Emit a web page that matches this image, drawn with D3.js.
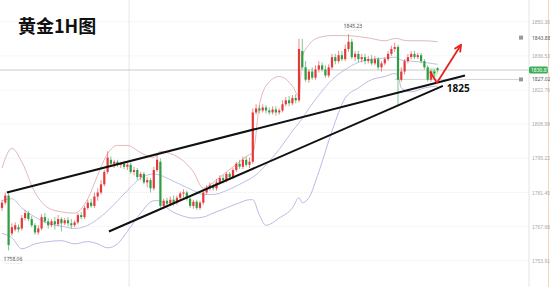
<!DOCTYPE html>
<html>
<head>
<meta charset="utf-8">
<script src="https://cdn.jsdelivr.net/npm/d3@7"></script>
<style>
  body { margin: 0; background: #fff; }
  svg { display: block; }
</style>
</head>
<body>
<div id="chart-area"></div>
<script>
/*
*    gold 1H candles
*/

// candles (open / close / high / low), one per hour
var opens  = [1775.2,1777.3,1780.2,1764.9,1766.5,1767.4,1766.9,1771.1,1773.1,1770.7,1768.2,1765.3,1766.9,1771.5,1769.8,1768.2,1769.8,1768.6,1770.7,1769.0,1770.2,1769.0,1768.2,1769.4,1772.3,1771.5,1775.2,1777.3,1776.0,1779.8,1781.4,1784.7,1789.7,1794.6,1793.0,1793.8,1792.6,1793.0,1791.8,1792.6,1789.7,1790.5,1787.6,1788.9,1785.5,1786.4,1783.1,1790.5,1793.8,1776.0,1778.1,1776.9,1778.5,1777.3,1779.3,1781.0,1781.4,1778.9,1776.0,1777.7,1775.2,1777.3,1781.4,1783.1,1784.3,1783.1,1785.5,1787.2,1786.4,1788.9,1787.6,1790.5,1793.0,1791.8,1794.6,1792.6,1793.8,1813.7,1815.3,1814.5,1815.7,1814.5,1813.7,1814.9,1813.7,1814.5,1817.0,1818.6,1817.4,1819.5,1818.6,1838.5,1831.9,1826.9,1830.2,1827.7,1831.0,1832.7,1831.0,1828.6,1831.9,1836.0,1834.4,1836.8,1835.2,1839.3,1842.2,1836.0,1837.3,1835.2,1836.0,1834.4,1835.2,1833.5,1835.2,1831.9,1833.5,1835.2,1837.3,1839.3,1840.1,1826.9,1830.2,1834.4,1836.0,1837.3,1836.0,1836.8,1834.4,1831.9,1826.9,1830.2,1831.5];
var closes = [1777.3,1780.2,1760.2,1767.4,1768.2,1766.5,1771.1,1773.1,1770.7,1768.2,1765.3,1766.9,1771.5,1769.8,1768.2,1769.8,1768.6,1770.7,1769.0,1770.2,1769.0,1768.2,1769.4,1772.3,1771.5,1775.2,1777.3,1776.0,1779.8,1781.4,1784.7,1789.7,1795.5,1793.0,1793.8,1792.6,1793.0,1791.8,1792.6,1789.7,1790.5,1787.6,1788.9,1785.5,1786.4,1783.1,1790.5,1794.6,1776.0,1778.1,1776.9,1778.5,1777.3,1779.3,1781.0,1781.4,1778.9,1776.0,1777.7,1775.2,1777.3,1781.4,1783.1,1784.3,1783.1,1785.5,1787.2,1786.4,1788.9,1787.6,1790.5,1793.0,1791.8,1794.6,1792.6,1793.8,1813.7,1815.3,1814.5,1815.7,1814.5,1813.7,1814.9,1813.7,1814.5,1817.0,1818.6,1817.4,1819.5,1818.6,1839.3,1831.9,1826.9,1830.2,1827.7,1831.0,1832.7,1831.0,1828.6,1831.9,1836.0,1834.4,1836.8,1835.2,1839.3,1842.2,1836.0,1837.3,1835.2,1836.0,1834.4,1835.2,1833.5,1835.2,1831.9,1833.5,1835.2,1837.3,1839.3,1840.1,1826.9,1830.2,1834.4,1836.0,1837.3,1836.0,1836.8,1834.4,1831.9,1826.9,1830.2,1829.4,1830.81];
var highs  = [1778.5,1781.4,1781.4,1769.0,1769.4,1768.6,1772.3,1774.4,1774.0,1771.9,1769.0,1768.2,1772.7,1773.1,1771.1,1770.7,1771.5,1772.3,1771.5,1771.1,1771.5,1770.7,1770.2,1773.1,1773.5,1776.0,1778.5,1778.9,1781.4,1783.1,1786.4,1790.5,1798.0,1795.9,1794.6,1794.6,1793.8,1794.2,1793.4,1793.4,1791.8,1791.3,1789.7,1789.7,1787.6,1787.2,1791.8,1796.7,1795.1,1778.9,1779.3,1779.8,1780.2,1780.2,1781.8,1782.7,1782.2,1779.8,1778.5,1778.5,1778.1,1782.2,1784.3,1785.5,1785.1,1786.8,1788.4,1788.4,1789.7,1789.7,1791.3,1793.8,1794.6,1795.9,1795.9,1795.5,1815.3,1817.0,1816.6,1817.0,1816.6,1815.7,1816.2,1816.2,1815.3,1818.6,1819.9,1820.3,1820.7,1821.1,1843.4,1843.4,1834.4,1831.0,1831.9,1832.7,1834.4,1833.9,1832.7,1833.1,1837.3,1837.3,1838.5,1838.5,1841.0,1845.23,1843.4,1838.5,1838.5,1837.3,1837.3,1836.4,1836.8,1836.4,1836.0,1834.4,1836.0,1838.5,1840.6,1841.8,1841.0,1831.9,1835.2,1837.3,1838.5,1838.5,1837.7,1837.7,1835.2,1832.7,1831.0,1831.0,1832.0];
var lows   = [1774.0,1776.5,1758.06,1764.0,1765.7,1765.3,1766.1,1770.2,1769.8,1767.4,1764.4,1764.4,1766.1,1769.0,1766.9,1767.4,1766.5,1767.8,1765.7,1768.2,1767.8,1766.9,1767.4,1768.6,1770.7,1770.7,1774.4,1775.2,1775.2,1778.1,1780.6,1783.9,1788.9,1791.8,1791.3,1791.8,1791.3,1790.9,1790.5,1788.9,1788.4,1786.4,1786.4,1784.7,1783.5,1781.4,1782.2,1789.7,1774.8,1774.8,1775.6,1776.0,1776.0,1776.5,1778.1,1779.3,1778.1,1775.2,1774.8,1774.4,1774.4,1776.5,1780.6,1782.2,1782.2,1782.2,1784.7,1785.1,1785.5,1786.4,1786.8,1789.7,1790.9,1790.9,1791.8,1791.3,1793.0,1812.8,1813.3,1813.7,1813.3,1812.8,1812.8,1812.4,1812.8,1813.7,1816.2,1816.2,1816.6,1817.4,1817.8,1831.0,1826.1,1825.7,1826.9,1826.9,1829.8,1830.2,1827.7,1827.7,1831.0,1833.1,1833.5,1834.4,1834.4,1838.1,1835.2,1834.4,1833.9,1833.9,1833.1,1833.5,1832.7,1832.7,1831.0,1830.2,1832.7,1834.4,1836.4,1838.1,1816.6,1826.1,1829.0,1833.5,1835.2,1835.2,1835.2,1833.5,1831.0,1826.1,1826.1,1827.7,1829.9];

// bollinger bands, read at these candle indices
var bandIdx    = [0,3,6,10,14,18,22,26,29,32,35,38,42,46,48,50,54,58,61,64,68,72,75,76,78,80,84,88,90,91,93,96,100,104,108,112,116,119,120,121,124,128,132];
var upperBand  = [1791.3,1799.2,1793.8,1781.4,1775.2,1773.6,1773.1,1778.9,1788.4,1797.1,1800.4,1800.4,1797.5,1795.5,1798.0,1797.5,1795.1,1789.7,1783.1,1785.5,1789.7,1793.8,1796.7,1797.1,1816.6,1824.4,1828.2,1824.4,1820.3,1836.0,1841.0,1843.9,1844.7,1844.7,1844.3,1843.5,1842.6,1843.5,1843.5,1843.0,1842.6,1842.6,1842.2];
var middleBand = [1778.1,1778.9,1775.2,1771.5,1769.0,1767.8,1766.9,1768.2,1770.7,1774.0,1778.1,1782.2,1787.2,1788.9,1788.4,1787.2,1784.7,1782.2,1780.6,1780.6,1782.2,1784.7,1786.8,1787.6,1789.7,1792.6,1798.8,1806.2,1809.5,1811.2,1815.3,1820.7,1826.9,1831.0,1833.9,1835.2,1835.6,1836.0,1835.6,1834.8,1834.4,1833.9,1833.1];
var lowerBand  = [1764.9,1763.2,1758.7,1760.7,1761.6,1762.0,1760.7,1761.6,1760.7,1759.1,1760.7,1765.7,1773.1,1778.1,1778.1,1775.2,1772.3,1771.1,1771.5,1773.1,1775.2,1777.3,1778.5,1778.5,1772.3,1768.2,1771.1,1775.2,1779.3,1777.3,1779.3,1789.7,1806.2,1819.5,1823.6,1826.9,1828.2,1829.4,1828.6,1823.6,1822.0,1823.6,1824.4];

// right axis
var tickLabels = ["1850.30","1836.53","1822.76","1808.99","1795.22","1781.45","1767.68","1753.91"];
var lastPrice = 1830.81;
var linePrices = [1843.88, 1827.02];

// drawn trend lines and the forecast arrow, [candle index, price]
var upperTrend = [[1.5, 1781.4], [140.3, 1828.6]];
var lowerTrend = [[32.4, 1765.7], [133.6, 1824.4]];
var arrowPath  = [[129.7, 1830.2], [131.8, 1825.7], [139.1, 1841.0]];
var supportLabel = "1825";

var width = 550;
var height = 287;
var plotRight = 529;

var svg = d3.select("#chart-area")
    .append("svg")
    .attr("width", width)
    .attr("height", height)
    .style("font-family", "'Noto Sans', 'Noto Sans CJK SC', sans-serif");

var x = d3.scaleLinear()
    .domain([0, 132])
    .range([2, 437.6]);

var y = d3.scaleLinear()
    .domain([1753.91, 1850.30])
    .range([260.7, 21.7]);

var tickVals = tickLabels.map((d) => { return +d; });

// grid
svg.append("g").selectAll("line")
    .data(tickVals)
    .enter().append("line")
        .attr("x1", 0).attr("x2", plotRight)
        .attr("y1", (d) => { return y(d); })
        .attr("y2", (d) => { return y(d); })
        .attr("stroke", "#eeeeee")
        .attr("stroke-dasharray", "1,1");

svg.append("line")
    .attr("x1", x(38.5)).attr("x2", x(38.5))
    .attr("y1", 0).attr("y2", height)
    .attr("stroke", "#e6e6e6");

// right axis
svg.append("line")
    .attr("x1", plotRight).attr("x2", plotRight)
    .attr("y1", 0).attr("y2", height)
    .attr("stroke", "#e4e4e4");
svg.append("line")
    .attr("x1", 548.5).attr("x2", 548.5)
    .attr("y1", 0).attr("y2", height)
    .attr("stroke", "#f2d6bd");

var yAxisCall = d3.axisRight(y)
    .tickValues(tickVals)
    .tickSize(0)
    .tickPadding(3)
    .tickFormat((d, i) => { return tickLabels[i]; });

var yAxisGroup = svg.append("g")
    .attr("transform", "translate(" + plotRight + ", 0)")
    .call(yAxisCall);
yAxisGroup.select(".domain").remove();
yAxisGroup.selectAll("text")
    .attr("font-size", "5px")
    .attr("fill", "#aaaaaa");

// horizontal price lines
svg.append("line")
    .attr("x1", 0).attr("x2", plotRight)
    .attr("y1", y(lastPrice)).attr("y2", y(lastPrice))
    .attr("stroke", "#cccccc");
svg.append("line")
    .attr("x1", x(119)).attr("x2", 520)
    .attr("y1", y(linePrices[1])).attr("y2", y(linePrices[1]))
    .attr("stroke", "#d4d4d4");

linePrices.forEach((p) => {
    svg.append("rect")
        .attr("x", 519).attr("y", y(p) - 2)
        .attr("width", 4).attr("height", 4)
        .attr("fill", "#999");
    svg.append("text")
        .attr("x", 532).attr("y", y(p) + 2)
        .attr("font-size", "5px")
        .attr("fill", "#555")
        .text(p.toFixed(2));
});

svg.append("rect")
    .attr("x", 529).attr("y", y(lastPrice) - 3.5)
    .attr("width", 19).attr("height", 7)
    .attr("rx", 1.5)
    .attr("fill", "#3dae55");
svg.append("text")
    .attr("x", 531).attr("y", y(lastPrice) + 2)
    .attr("font-size", "5px")
    .attr("fill", "#fff")
    .text(lastPrice.toFixed(2));

// bollinger bands
var bandLine = (vals) => {
    return d3.line()
        .x((d, i) => { return x(bandIdx[i]); })
        .y((d) => { return y(d); })
        .curve(d3.curveMonotoneX)(vals);
};
svg.append("path").attr("d", bandLine(upperBand))
    .attr("fill", "none").attr("stroke", "#dba6a6").attr("stroke-width", 0.8);
svg.append("path").attr("d", bandLine(middleBand))
    .attr("fill", "none").attr("stroke", "#a9b3dc").attr("stroke-width", 0.8);
svg.append("path").attr("d", bandLine(lowerBand))
    .attr("fill", "none").attr("stroke", "#b0a6dc").attr("stroke-width", 0.8);

// glow on the last candles
var defs = svg.append("defs");
defs.append("filter").attr("id", "glow")
    .append("feGaussianBlur").attr("stdDeviation", 2);
svg.append("ellipse")
    .attr("cx", x(130.5)).attr("cy", y(1829.6))
    .attr("rx", 5).attr("ry", 5)
    .attr("fill", "#9be39a")
    .attr("opacity", 0.7)
    .attr("filter", "url(#glow)");

// candles
var candles = opens.map((o, i) => {
    return {i: i, o: o, c: closes[i], h: highs[i], l: lows[i]};
});
var color = (d) => { return d.c >= d.o ? "#e5383b" : "#2e9e44"; };

svg.append("g").selectAll("line")
    .data(candles)
    .enter().append("line")
        .attr("x1", (d) => { return x(d.i); })
        .attr("x2", (d) => { return x(d.i); })
        .attr("y1", (d) => { return y(d.h); })
        .attr("y2", (d) => { return y(d.l); })
        .attr("stroke", color)
        .attr("stroke-width", 0.6);

svg.append("g").selectAll("rect")
    .data(candles)
    .enter().append("rect")
        .attr("x", (d) => { return x(d.i) - 1.1; })
        .attr("y", (d) => { return y(Math.max(d.o, d.c)); })
        .attr("width", 2.2)
        .attr("height", (d) => { return Math.max(0.8, Math.abs(y(d.o) - y(d.c))); })
        .attr("fill", color);

// high / low labels
var hiIdx = d3.maxIndex(highs);
var loIdx = d3.minIndex(lows);
[[hiIdx, highs[hiIdx], -6], [loIdx, lows[loIdx], 11]].forEach((m) => {
    var lx = Math.max(x(m[0]) - 3, 4);
    var ly = y(m[1]) + m[2];
    svg.append("rect")
        .attr("x", lx - 1).attr("y", ly - 5)
        .attr("width", 17).attr("height", 7)
        .attr("rx", 1)
        .attr("fill", "#fff")
        .attr("stroke", "#dddddd")
        .attr("stroke-width", 0.5);
    svg.append("text")
        .attr("x", lx + 7.5).attr("y", ly)
        .attr("text-anchor", "middle")
        .attr("font-size", "5px")
        .attr("fill", "#555")
        .text(m[1].toFixed(2));
});

// trend lines
var ptLine = d3.line()
    .x((d) => { return x(d[0]); })
    .y((d) => { return y(d[1]); });

[upperTrend, lowerTrend].forEach((t) => {
    svg.append("path")
        .attr("d", ptLine(t))
        .attr("fill", "none")
        .attr("stroke", "#111")
        .attr("stroke-width", 2);
});

// forecast arrow
svg.append("path")
    .attr("d", ptLine(arrowPath))
    .attr("fill", "none")
    .attr("stroke", "#e8211e")
    .attr("stroke-width", 1.8)
    .attr("stroke-linejoin", "round");

var tip = arrowPath[2], prev = arrowPath[1];
var ang = Math.atan2(y(tip[1]) - y(prev[1]), x(tip[0]) - x(prev[0]));
var tx = x(tip[0]), ty = y(tip[1]);
svg.append("path")
    .attr("d", "M" + tx + "," + ty +
        "L" + (tx - 7 * Math.cos(ang - 0.45)) + "," + (ty - 7 * Math.sin(ang - 0.45)) +
        "M" + tx + "," + ty +
        "L" + (tx - 7 * Math.cos(ang + 0.45)) + "," + (ty - 7 * Math.sin(ang + 0.45)))
    .attr("fill", "none")
    .attr("stroke", "#e8211e")
    .attr("stroke-width", 1.8)
    .attr("stroke-linecap", "round");

// support label, just right of the V bottom
svg.append("text")
    .attr("x", x(134.8))
    .attr("y", y(1822.0))
    .attr("font-size", "10px")
    .attr("font-weight", "bold")
    .attr("fill", "#111")
    .text(supportLabel);

// title
svg.append("text")
    .attr("x", 18)
    .attr("y", 33)
    .attr("font-size", "18px")
    .attr("font-weight", "bold")
    .attr("font-family", "'Noto Sans CJK SC', sans-serif")
    .attr("fill", "#111")
    .text("黄金1H图");

</script>
</body>
</html>
